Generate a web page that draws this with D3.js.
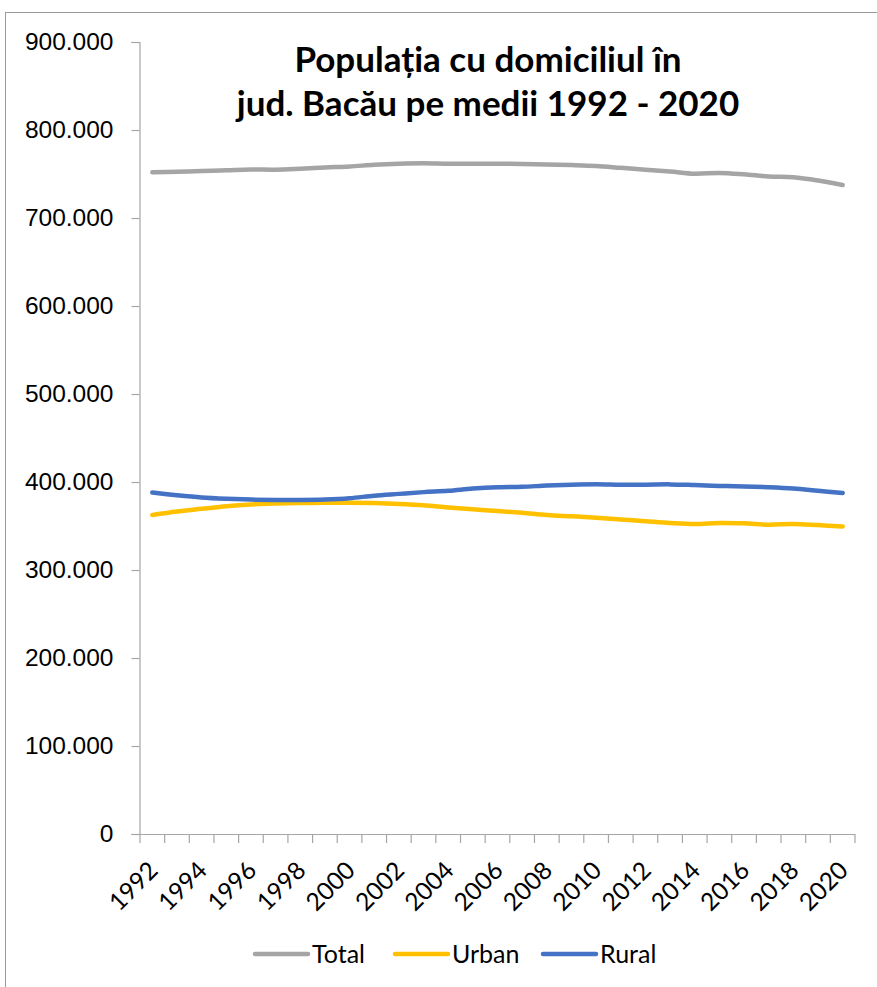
<!DOCTYPE html>
<html>
<head>
<meta charset="utf-8">
<script src="https://cdn.jsdelivr.net/npm/d3@7"></script>
<style>
  html, body { margin: 0; padding: 0; background: #fff; }
  svg { display: block; font-family: Lato, "Open Sans", sans-serif; }
</style>
</head>
<body>
<div id="chart"></div>
<script>
const years = d3.range(1992, 2021).map(String);
const yearLabels = years.filter((d, i) => i % 2 === 0);

const total = [752.0, 752.6, 753.4, 754.2, 755.1, 754.9, 756.0, 757.4, 758.5, 760.5,
  761.7, 762.2, 761.7, 761.7, 761.7, 761.4, 760.8, 760.2, 759.2, 757.0,
  754.8, 752.8, 750.3, 751.2, 749.6, 747.2, 746.3, 742.6, 737.5].map(v => v * 1000);
const urban = [362.5, 366.5, 369.5, 372.5, 374.5, 375.5, 376.0, 376.5, 376.5, 376.0,
  375.0, 373.5, 371.0, 369.0, 367.0, 365.0, 362.5, 361.0, 359.5, 357.5,
  355.5, 353.5, 352.3, 353.5, 353.0, 351.5, 352.3, 351.0, 349.5].map(v => v * 1000);
const rural = [388.0, 385.0, 382.5, 381.0, 380.0, 379.5, 379.5, 380.0, 381.5, 384.5,
  386.5, 388.5, 390.0, 392.5, 394.0, 394.5, 396.0, 397.0, 397.5, 397.0,
  397.0, 397.3, 396.5, 395.5, 395.0, 394.0, 392.5, 390.0, 387.5].map(v => v * 1000);

const yTicks = [0, 100000, 200000, 300000, 400000, 500000, 600000, 700000, 800000, 900000];

const series = [
  { name: "Total", values: total, color: "#A5A5A5" },
  { name: "Urban", values: urban, color: "#FFC000" },
  { name: "Rural", values: rural, color: "#4472C4" }
];

const W = 877, H = 987;
const plot = { left: 140, right: 855, top: 42, bottom: 834 };

const svg = d3.select("#chart").append("svg")
  .attr("width", W)
  .attr("height", H);

// chart frame (cut by the window on the right and bottom)
svg.append("rect")
  .attr("x", 5.5).attr("y", 12.5)
  .attr("width", 1000).attr("height", 1000)
  .attr("fill", "#fff")
  .attr("stroke", "#9a9a9a");

const x = d3.scaleBand()
  .domain(years)
  .range([plot.left, plot.right]);

const y = d3.scaleLinear()
  .domain([0, 900000])
  .range([plot.bottom, plot.top]);

const fmt = v => v === 0 ? "0" : d3.format(",")(v).replace(/,/g, ".");

// y axis
const yAxis = svg.append("g")
  .attr("transform", `translate(${plot.left - 0.5},0)`)
  .call(d3.axisLeft(y).tickValues(yTicks).tickFormat(fmt).tickSize(8).tickPadding(18));
yAxis.select(".domain").attr("stroke", "#a6a6a6").attr("stroke-width", 1.2);
yAxis.selectAll(".tick line").attr("stroke", "#a6a6a6").attr("stroke-width", 1.2);
yAxis.selectAll(".tick text")
  .attr("fill", "#000")
  .style("font-size", "24.5px");

// x axis: ticks at category boundaries
const xg = svg.append("g");
xg.append("line")
  .attr("x1", plot.left - 8).attr("x2", plot.right)
  .attr("y1", plot.bottom + 0.5).attr("y2", plot.bottom + 0.5)
  .attr("stroke", "#a6a6a6").attr("stroke-width", 1.2);
xg.selectAll("line.tk")
  .data(years.concat(["end"]))
  .enter().append("line")
  .attr("class", "tk")
  .attr("x1", d => d === "end" ? plot.right : x(d))
  .attr("x2", d => d === "end" ? plot.right : x(d))
  .attr("y1", plot.bottom)
  .attr("y2", plot.bottom + 9)
  .attr("stroke", "#a6a6a6").attr("stroke-width", 1.2);
xg.selectAll("text")
  .data(yearLabels)
  .enter().append("text")
  .attr("transform", d => `translate(${x(d) + x.bandwidth() / 2 + 7},${plot.bottom + 38}) rotate(-45)`)
  .attr("text-anchor", "end")
  .style("font-size", "24.5px")
  .attr("fill", "#000")
  .text(d => d);

// lines
const line = d3.line()
  .x((d, i) => x(years[i]) + x.bandwidth() / 2)
  .y(d => y(d))
  .curve(d3.curveCatmullRom.alpha(0.5));

svg.selectAll("path.series")
  .data(series)
  .enter().append("path")
  .attr("class", "series")
  .attr("d", d => line(d.values))
  .attr("fill", "none")
  .attr("stroke", d => d.color)
  .attr("stroke-width", 4.5)
  .attr("stroke-linecap", "round")
  .attr("stroke-linejoin", "round");

// title
const title = svg.append("text")
  .attr("text-anchor", "middle")
  .style("font-size", "35px")
  .style("font-weight", "bold")
  .attr("fill", "#000");
title.append("tspan").attr("x", 488).attr("y", 72).text("Populația cu domiciliul în");
title.append("tspan").attr("x", 488).attr("y", 116).text("jud. Bacău pe medii 1992 - 2020");

// legend
const legendX = [255, 395, 543];
series.forEach((s, i) => {
  const g = svg.append("g").attr("transform", `translate(${legendX[i]},954)`);
  g.append("line")
    .attr("x1", 0).attr("x2", 53)
    .attr("y1", 0).attr("y2", 0)
    .attr("stroke", s.color)
    .attr("stroke-width", 4.5)
    .attr("stroke-linecap", "round");
  g.append("text")
    .attr("x", 57)
    .attr("y", 0)
    .attr("dy", "0.35em")
    .style("font-size", "25px")
    .attr("fill", "#000")
    .text(s.name);
});
</script>
</body>
</html>
